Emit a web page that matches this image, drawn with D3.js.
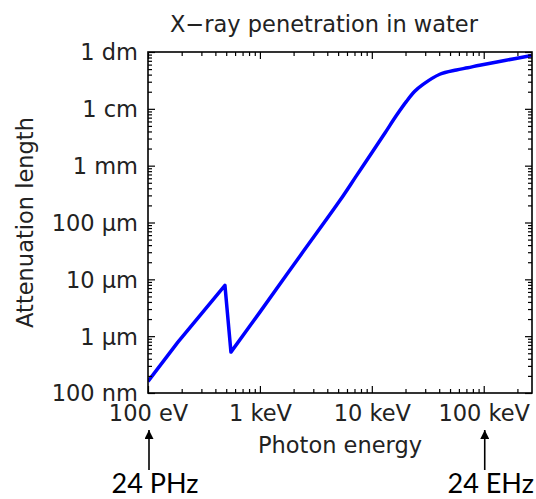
<!DOCTYPE html>
<html>
<head>
<meta charset="utf-8">
<script src="https://cdn.jsdelivr.net/npm/d3@7"></script>
<style>
  body { margin: 0; background: #fff; }
  svg { display: block; }
  .tick text { font-family: "DejaVu Sans", sans-serif; font-size: 22.5px; fill: #222; }
</style>
</head>
<body>
<div id="chart"></div>
<script>
(function(){

// photon energy (eV) and attenuation length (m)
var energy = [100, 185, 487, 551, 1000, 2275, 5180, 7300, 10280, 13060, 16630, 20400,
              24200, 28700, 40500, 57000, 72000, 92000, 154000, 268000];
var attenuation = [1.6e-7, 7.85e-7, 7.85e-6, 5.24e-7, 2.65e-6, 2.55e-5, 2.43e-4, 6.68e-4, 1.83e-3,
                   3.72e-3, 7.69e-3, 1.35e-2, 2.03e-2, 2.69e-2, 4.06e-2, 4.83e-2, 5.28e-2, 5.85e-2,
                   7.09e-2, 8.69e-2];
// the oxygen K edge splits the curve: straight pieces below it, smooth above
var edgeIndex = 3;

var energyTicks = [100, 1000, 10000, 100000];
var energyLabels = ["100 eV", "1 keV", "10 keV", "100 keV"];
var lengthTicks = [1e-7, 1e-6, 1e-5, 1e-4, 1e-3, 1e-2, 1e-1];
var lengthLabels = ["100 nm", "1 µm", "10 µm", "100 µm", "1 mm", "1 cm", "1 dm"];

var frequencyMarks = [100, 100000];
var frequencyLabels = ["24 PHz", "24 EHz"];

var width = 536, height = 499;
var m = {left: 148, right: 532, top: 52, bottom: 393};

var svg = d3.select("#chart").append("svg")
    .attr("width", width)
    .attr("height", height);

var x = d3.scaleLog().domain([100, 270000]).range([m.left, m.right]);
var y = d3.scaleLog().domain([1e-7, 1e-1]).range([m.bottom, m.top]);

function isMajor(list, v) {
  return list.some(function(t) { return Math.abs(Math.log10(t) - Math.log10(v)) < 1e-6; });
}
var xMinor = x.ticks().filter(function(v) { return !isMajor(energyTicks, v); });
var yMinor = y.ticks().filter(function(v) { return !isMajor(lengthTicks, v); });

var defs = svg.append("defs");
defs.append("clipPath").attr("id", "clip")
  .append("rect")
    .attr("x", m.left).attr("y", m.top)
    .attr("width", m.right - m.left).attr("height", m.bottom - m.top);

// the curve
var pts = energy.map(function(e, i) { return [e, attenuation[i]]; });
var lineLin = d3.line()
    .x(function(d) { return x(d[0]); })
    .y(function(d) { return y(d[1]); });
var lineSmooth = d3.line()
    .x(function(d) { return x(d[0]); })
    .y(function(d) { return y(d[1]); })
    .curve(d3.curveCatmullRom.alpha(0.5));

var lowPath = lineLin(pts.slice(0, edgeIndex + 1));
var highPath = lineSmooth(pts.slice(edgeIndex));

svg.append("path")
    .attr("clip-path", "url(#clip)")
    .attr("fill", "none")
    .attr("stroke", "#0000ff")
    .attr("stroke-width", 3.5)
    .attr("stroke-linejoin", "round")
    .attr("d", lowPath + "L" + highPath.slice(1));

// ticks, pointing inward on all four sides
function ticks(axisFn, scale, values, size, pos, labels) {
  var ax = axisFn(scale).tickValues(values).tickSize(-size).tickSizeOuter(0);
  if (labels) ax.tickFormat(function(d, i) { return labels[i]; }).tickPadding(size + 8);
  else ax.tickFormat("");
  var g = svg.append("g").attr("transform", pos).call(ax);
  g.select(".domain").remove();
  g.selectAll(".tick line").attr("stroke", "#000").attr("stroke-width", 1.2);
  return g;
}

var xb = ticks(d3.axisBottom, x, energyTicks, 7, "translate(0," + m.bottom + ")", energyLabels);
xb.selectAll(".tick text").attr("y", 12).attr("dy", "0.71em");
ticks(d3.axisBottom, x, xMinor, 4, "translate(0," + m.bottom + ")");
ticks(d3.axisTop, x, energyTicks, 7, "translate(0," + m.top + ")");
ticks(d3.axisTop, x, xMinor, 4, "translate(0," + m.top + ")");

var yl = ticks(d3.axisLeft, y, lengthTicks, 7, "translate(" + m.left + ",0)", lengthLabels);
yl.selectAll(".tick text").attr("dy", "0.35em").attr("x", -10);
ticks(d3.axisLeft, y, yMinor, 4, "translate(" + m.left + ",0)");
ticks(d3.axisRight, y, lengthTicks, 7, "translate(" + m.right + ",0)");
ticks(d3.axisRight, y, yMinor, 4, "translate(" + m.right + ",0)");

// frame
svg.append("rect")
    .attr("x", m.left).attr("y", m.top)
    .attr("width", m.right - m.left).attr("height", m.bottom - m.top)
    .attr("fill", "none")
    .attr("stroke", "#000")
    .attr("stroke-width", 1.6);

// titles
function label(xp, yp, txt, rot) {
  return svg.append("text")
    .attr("transform", "translate(" + xp + "," + yp + ")" + (rot ? " rotate(-90)" : ""))
    .attr("text-anchor", "middle")
    .style("font-family", "DejaVu Sans, sans-serif")
    .style("font-size", "22.5px")
    .attr("fill", "#222")
    .text(txt);
}
label(324, 32, "X\u2212ray penetration in water");
label((m.left + m.right) / 2, 453, "Photon energy");
label(33, (m.top + m.bottom) / 2, "Attenuation length", true);

// frequency annotations with arrows
defs.append("marker")
    .attr("id", "head")
    .attr("viewBox", "0 0 10 10")
    .attr("refX", 10).attr("refY", 5)
    .attr("markerWidth", 11).attr("markerHeight", 9)
    .attr("markerUnits", "userSpaceOnUse")
    .attr("orient", "auto")
  .append("path")
    .attr("d", "M0,0 L10,5 L0,10 Z")
    .attr("fill", "#000");

var ann = svg.selectAll(".freq")
    .data(frequencyMarks)
    .enter().append("g")
    .attr("class", "freq");

ann.append("line")
    .attr("x1", function(d) { return x(d) + 1; })
    .attr("x2", function(d) { return x(d) + 1; })
    .attr("y1", 470).attr("y2", 430)
    .attr("stroke", "#000")
    .attr("stroke-width", 1.6)
    .attr("marker-end", "url(#head)");

ann.append("text")
    .attr("x", function(d) { return x(d) + 7; })
    .attr("y", 493)
    .attr("text-anchor", "middle")
    .style("font-family", "Lato, sans-serif")
    .style("font-size", "27px")
    .attr("fill", "#000")
    .text(function(d, i) { return frequencyLabels[i]; });

})();
</script>
</body>
</html>
